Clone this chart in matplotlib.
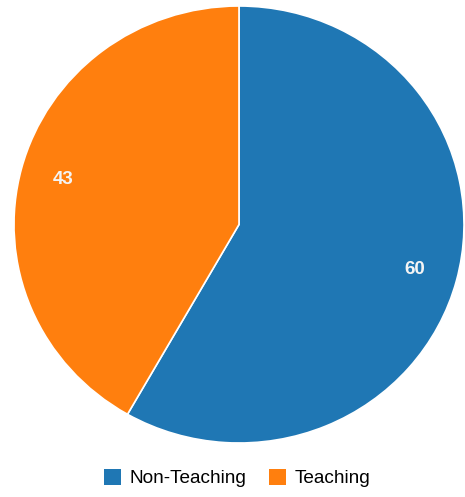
import matplotlib.pyplot as plt
from matplotlib.patches import Patch

labels = ["Non-Teaching", "Teaching"]
values = [60, 43]
colors = ["#1f77b4", "#ff7f0e"]

plt.rcParams['font.family'] = ['Liberation Sans', 'DejaVu Sans']

W, H = 465, 497
fig = plt.figure(figsize=(W / 100, H / 100), dpi=100)

# pie box in pixels (slightly wider than tall, as in the original)
cx, cy, rx, ry = 239, 224.5, 225, 218.5
ax = fig.add_axes([(cx - rx) / W, (H - cy - ry) / H, 2 * rx / W, 2 * ry / H])
wedges, texts = ax.pie(values, colors=colors, startangle=90, counterclock=False,
                       radius=1, labels=[str(v) for v in values], labeldistance=0.81,
                       wedgeprops=dict(edgecolor="white", linewidth=1.2),
                       textprops=dict(color="#f4f4f4", fontsize=13.5, fontweight="bold",
                                      ha="center", va="center"))
ax.set_xlim(-1, 1)
ax.set_ylim(-1, 1)
ax.set_aspect("auto")
ax.axis("off")

handles = [Patch(facecolor=c, edgecolor="none") for c in colors]
fig.legend(handles, labels, loc="center", bbox_to_anchor=(237 / W, 1 - 478 / H),
           ncol=2, frameon=False, fontsize=13.7, handlelength=0.9, handleheight=0.9,
           handletextpad=0.45, columnspacing=1.2)

plt.savefig("out.png", dpi=100)
